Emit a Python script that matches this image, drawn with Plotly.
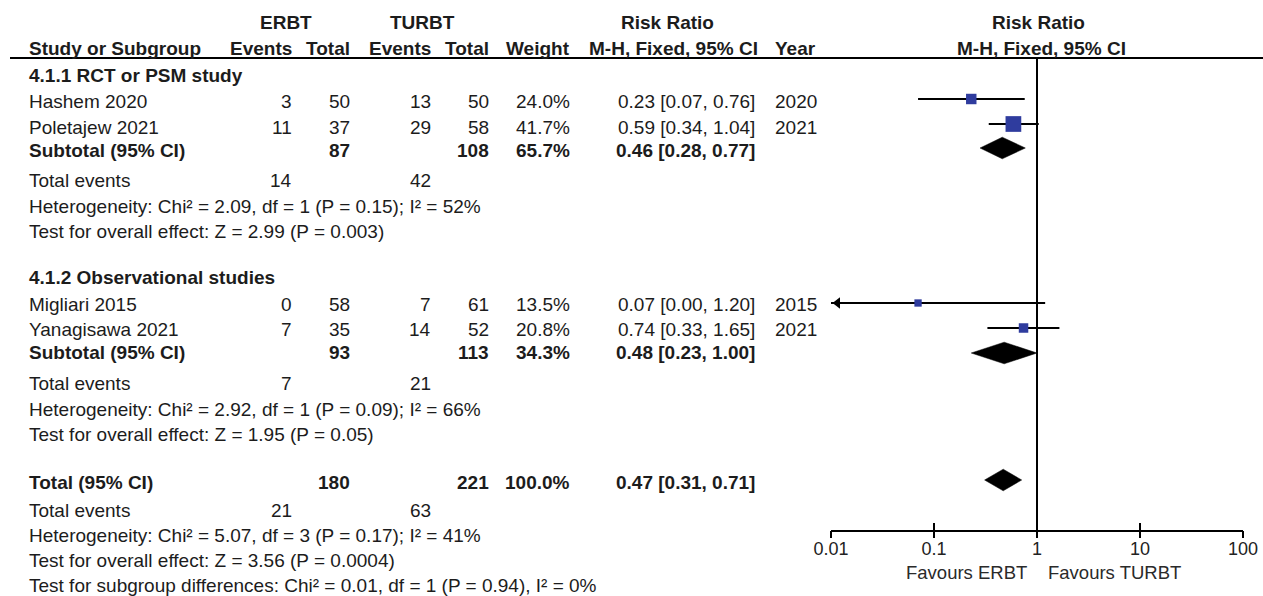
import plotly.graph_objects as go

W, H = 1263, 596
FONT = "Liberation Sans, Arial, sans-serif"
TXT = "#1c1c1c"

# ---------------- data ----------------
studies = ["Hashem 2020", "Poletajew 2021", "Migliari 2015", "Yanagisawa 2021"]
erbt_events = [3, 11, 0, 7]
erbt_total = [50, 37, 58, 35]
turbt_events = [13, 29, 7, 14]
turbt_total = [50, 58, 61, 52]
weights = [24.0, 41.7, 13.5, 20.8]
rr = [0.23, 0.59, 0.07, 0.74]
ci_low = [0.07, 0.34, 0.00, 0.33]
ci_high = [0.76, 1.04, 1.20, 1.65]
years = [2020, 2021, 2015, 2021]

group_names = ["4.1.1 RCT or PSM study", "4.1.2 Observational studies"]
sub_erbt_total = [87, 93]
sub_turbt_total = [108, 113]
sub_weight = [65.7, 34.3]
sub_rr = [0.46, 0.48]
sub_low = [0.28, 0.23]
sub_high = [0.77, 1.00]
sub_erbt_events = [14, 7]
sub_turbt_events = [42, 21]
sub_het = ["Heterogeneity: Chi² = 2.09, df = 1 (P = 0.15); I² = 52%",
           "Heterogeneity: Chi² = 2.92, df = 1 (P = 0.09); I² = 66%"]
sub_test = ["Test for overall effect: Z = 2.99 (P = 0.003)",
            "Test for overall effect: Z = 1.95 (P = 0.05)"]

tot_erbt_total = 180
tot_turbt_total = 221
tot_weight = 100.0
tot_rr, tot_low, tot_high = 0.47, 0.31, 0.71
tot_erbt_events = 21
tot_turbt_events = 63
tot_het = "Heterogeneity: Chi² = 5.07, df = 3 (P = 0.17); I² = 41%"
tot_test = "Test for overall effect: Z = 3.56 (P = 0.0004)"
tot_subdiff = "Test for subgroup differences: Chi² = 0.01, df = 1 (P = 0.94), I² = 0%"

axis_ticks = [0.01, 0.1, 1, 10, 100]
axis_ticktext = ["0.01", "0.1", "1", "10", "100"]

# ---------------- layout (pixel positions) ----------------
study_rows = [101, 127, 304, 329]
group_rows = [75, 278]
sub_rows = [150, 353]
sub_ev_rows = [181, 383]
sub_het_rows = [206, 409]
sub_test_rows = [231, 434]
tot_row, tot_ev_row, tot_het_row, tot_test_row, tot_sub_row = 482, 510, 535, 560, 585
mark_rows = [99, 124, 303, 328]
sub_mark_rows = [148, 353]
tot_mark_row = 480

X_LABEL = 27
X_EV1, X_TOT1, X_EV2, X_TOT2, X_W, X_RR, X_YEAR = 294, 352, 433, 491, 572, 757, 773
PLOT_L, PLOT_R = 831, 1243
AX_Y, HDR_Y = 530, 58

fig = go.Figure()


def txt(x, y, s, anchor="left", bold=False, size=19, color=TXT):
    fig.add_annotation(x=x / W, y=1 - y / H, xref="paper", yref="paper",
                       text=f"<b>{s}</b>" if bold else s, showarrow=False,
                       xanchor=anchor, yanchor="middle",
                       font=dict(size=size, color=color, family=FONT))


# headers
txt(286, 22, "ERBT", "center", True)
txt(422, 22, "TURBT", "center", True)
txt(667, 22, "Risk Ratio", "center", True)
txt(1038, 22, "Risk Ratio", "center", True)
txt(X_LABEL, 48, "Study or Subgroup", "left", True)
txt(X_EV1, 48, "Events", "right", True)
txt(X_TOT1, 48, "Total", "right", True)
txt(X_EV2, 48, "Events", "right", True)
txt(X_TOT2, 48, "Total", "right", True)
txt(X_W, 48, "Weight", "right", True)
txt(X_RR + 3, 48, "M-H, Fixed, 95% CI", "right", True)
txt(X_YEAR, 48, "Year", "left", True)
txt(1041, 48, "M-H, Fixed, 95% CI", "center", True)

fig.add_shape(type="line", xref="paper", yref="paper", x0=10 / W, x1=1,
              y0=1 - HDR_Y / H, y1=1 - HDR_Y / H, line=dict(color="black", width=2))

# study rows
for i, name in enumerate(studies):
    y = study_rows[i]
    txt(X_LABEL, y, name)
    txt(X_EV1, y, str(erbt_events[i]), "right")
    txt(X_TOT1, y, str(erbt_total[i]), "right")
    txt(X_EV2, y, str(turbt_events[i]), "right")
    txt(X_TOT2, y, str(turbt_total[i]), "right")
    txt(X_W, y, f"{weights[i]:.1f}%", "right")
    txt(X_RR, y, f"{rr[i]:.2f} [{ci_low[i]:.2f}, {ci_high[i]:.2f}]", "right")
    txt(X_YEAR, y, str(years[i]))

# subgroup rows
for g, gname in enumerate(group_names):
    txt(X_LABEL, group_rows[g], gname, "left", True)
    y = sub_rows[g]
    txt(X_LABEL, y, "Subtotal (95% CI)", "left", True)
    txt(X_TOT1, y, str(sub_erbt_total[g]), "right", True)
    txt(X_TOT2, y, str(sub_turbt_total[g]), "right", True)
    txt(X_W, y, f"{sub_weight[g]:.1f}%", "right", True)
    txt(X_RR, y, f"{sub_rr[g]:.2f} [{sub_low[g]:.2f}, {sub_high[g]:.2f}]", "right", True)
    txt(X_LABEL, sub_ev_rows[g], "Total events")
    txt(X_EV1, sub_ev_rows[g], str(sub_erbt_events[g]), "right")
    txt(X_EV2, sub_ev_rows[g], str(sub_turbt_events[g]), "right")
    txt(X_LABEL, sub_het_rows[g], sub_het[g])
    txt(X_LABEL, sub_test_rows[g], sub_test[g])

# overall
txt(X_LABEL, tot_row, "Total (95% CI)", "left", True)
txt(X_TOT1, tot_row, str(tot_erbt_total), "right", True)
txt(X_TOT2, tot_row, str(tot_turbt_total), "right", True)
txt(X_W, tot_row, f"{tot_weight:.1f}%", "right", True)
txt(X_RR, tot_row, f"{tot_rr:.2f} [{tot_low:.2f}, {tot_high:.2f}]", "right", True)
txt(X_LABEL, tot_ev_row, "Total events")
txt(X_EV1, tot_ev_row, str(tot_erbt_events), "right")
txt(X_EV2, tot_ev_row, str(tot_turbt_events), "right")
txt(X_LABEL, tot_het_row, tot_het)
txt(X_LABEL, tot_test_row, tot_test)
txt(X_LABEL, tot_sub_row, tot_subdiff)

# favours labels
txt(1029, 572, "Favours ERBT", "right", False, 18.5, "#2a2a2a")
txt(1046, 572, "Favours TURBT", "left", False, 18.5, "#2a2a2a")

# ---------------- forest plot ----------------
AX_MIN, AX_MAX = axis_ticks[0], axis_ticks[-1]
BLUE = "#2f3c9e"

fig.add_trace(go.Scatter(x=[1, 1], y=[HDR_Y, AX_Y], mode="lines",
                         line=dict(color="black", width=2), hoverinfo="skip", showlegend=False))

for i in range(len(studies)):
    y = mark_rows[i]
    lo = max(ci_low[i], AX_MIN)
    fig.add_trace(go.Scatter(x=[lo, ci_high[i]], y=[y, y], mode="lines",
                             line=dict(color="black", width=1.8), hoverinfo="skip", showlegend=False))
    if ci_low[i] < AX_MIN:
        fig.add_trace(go.Scatter(x=[AX_MIN * 10 ** (6.5 / 103)], y=[y], mode="markers",
                                 marker=dict(symbol="triangle-left", size=10, color="black",
                                             line=dict(width=0)),
                                 hoverinfo="skip", showlegend=False))
    fig.add_trace(go.Scatter(x=[rr[i]], y=[y], mode="markers",
                             marker=dict(symbol="square", size=3.3 + 0.298 * weights[i],
                                         color=BLUE, line=dict(width=0)),
                             hoverinfo="skip", showlegend=False))


def diamond(est, lo, hi, y, h=10.8):
    fig.add_trace(go.Scatter(x=[lo, est, hi, est, lo], y=[y, y - h, y, y + h, y],
                             mode="lines", fill="toself", fillcolor="black",
                             line=dict(color="black", width=0.5),
                             hoverinfo="skip", showlegend=False))


for g in range(len(group_names)):
    diamond(sub_rr[g], sub_low[g], sub_high[g], sub_mark_rows[g])
diamond(tot_rr, tot_low, tot_high, tot_mark_row)

# dummy on overlay axis (outside ticks)
fig.add_trace(go.Scatter(x=[1], y=[-1000], xaxis="x2", yaxis="y", mode="markers",
                         marker=dict(opacity=0), hoverinfo="skip", showlegend=False))

xdom = [PLOT_L / W, PLOT_R / W]
ydom = [(H - AX_Y) / H, (H - HDR_Y) / H]
fig.update_layout(
    autosize=True, margin=dict(l=0, r=0, t=0, b=0, autoexpand=False),
    paper_bgcolor="white", plot_bgcolor="rgba(0,0,0,0)",
    showlegend=False,
    xaxis=dict(type="log", range=[-2, 2], domain=xdom, anchor="y",
               showline=True, linecolor="black", linewidth=2,
               ticks="inside", ticklen=7, tickwidth=2, tickcolor="black",
               tickvals=axis_ticks, ticktext=axis_ticktext, ticklabelstandoff=1,
               tickfont=dict(size=18, color="#222", family=FONT),
               showgrid=False, zeroline=False, fixedrange=True),
    xaxis2=dict(type="log", range=[-2, 2], overlaying="x", anchor="y", side="bottom",
                ticks="outside", ticklen=7, tickwidth=2, tickcolor="black",
                tickvals=axis_ticks, showticklabels=False, showline=False,
                showgrid=False, zeroline=False, fixedrange=True),
    yaxis=dict(range=[AX_Y, HDR_Y], domain=ydom, visible=False, fixedrange=True),
)

post = ("document.documentElement.style.margin='0';document.body.style.margin='0';"
        "document.documentElement.style.overflow='hidden';document.body.style.overflow='hidden';"
        "var gd=document.getElementById('{plot_id}');gd.style.width='100vw';gd.style.height='100vh';"
        "Plotly.Plots.resize(gd);")
fig.write_html("out.html", default_width="100%", default_height="100%",
               config={"displayModeBar": False, "responsive": True}, post_script=post)
